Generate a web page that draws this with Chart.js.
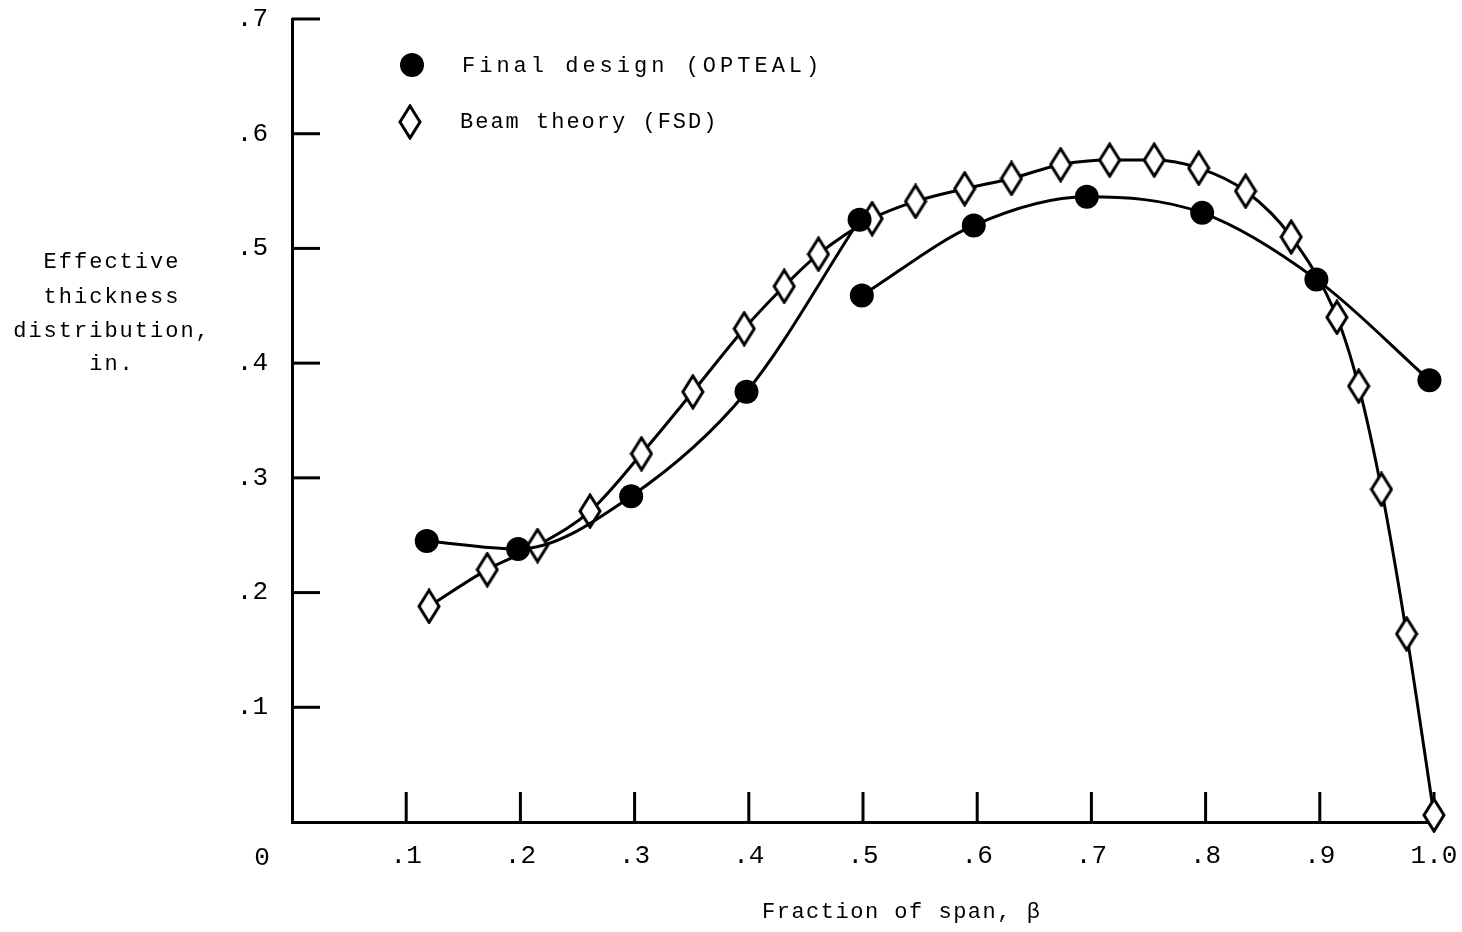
<!DOCTYPE html>
<html>
<head>
<meta charset="utf-8">
<script src="https://cdn.jsdelivr.net/npm/chart.js@4.4.1/dist/chart.umd.min.js"></script>
<style>
html,body{margin:0;padding:0;background:#fff;}
#c{display:block;}
</style>
</head>
<body>
<canvas id="c" width="1462" height="932"></canvas>
<script>
// ---- data ----
const finalInnerX = [0.118, 0.198, 0.297, 0.398, 0.497];
const finalInnerY = [0.245, 0.238, 0.284, 0.375, 0.525];
const finalOuterX = [0.499, 0.597, 0.696, 0.797, 0.897, 0.996];
const finalOuterY = [0.459, 0.520, 0.545, 0.531, 0.473, 0.385];
const beamX = [0.120, 0.171, 0.215, 0.261, 0.306, 0.351, 0.396, 0.431, 0.461, 0.508, 0.546, 0.589,
               0.630, 0.673, 0.716, 0.755, 0.794, 0.835, 0.875, 0.915, 0.934, 0.954, 0.976, 1.000];
const beamY = [0.188, 0.220, 0.241, 0.271, 0.321, 0.375, 0.430, 0.467, 0.495, 0.526, 0.541, 0.552,
               0.561, 0.573, 0.577, 0.577, 0.570, 0.550, 0.510, 0.440, 0.380, 0.290, 0.164, 0.006];
const xTicks = [0, 0.1, 0.2, 0.3, 0.4, 0.5, 0.6, 0.7, 0.8, 0.9, 1.0];
const xTickLabels = ['0', '.1', '.2', '.3', '.4', '.5', '.6', '.7', '.8', '.9', '1.0'];
const yTicks = [0, 0.1, 0.2, 0.3, 0.4, 0.5, 0.6, 0.7];
const yTickLabels = ['', '.1', '.2', '.3', '.4', '.5', '.6', '.7'];
const seriesNames = ['Final design (OPTEAL)', 'Beam theory (FSD)'];
const xTitle = 'Fraction of span, \u03B2';
const yTitleLines = ['Effective', 'thickness', 'distribution,', 'in.'];

const toPts = (xs, ys) => xs.map((x, i) => ({x: x, y: ys[i]}));

// tall open diamond marker
function makeDiamond() {
  const cv = document.createElement('canvas');
  cv.width = 24; cv.height = 36;
  const g = cv.getContext('2d');
  g.beginPath();
  g.moveTo(12, 2); g.lineTo(22, 18); g.lineTo(12, 34); g.lineTo(2, 18); g.closePath();
  g.fillStyle = '#fff'; g.fill();
  g.lineWidth = 3; g.strokeStyle = '#000'; g.lineJoin = 'miter'; g.stroke();
  return cv;
}
const diamond = makeDiamond();

const MONO = '"Liberation Mono", "DejaVu Sans Mono", monospace';

const decorPlugin = {
  id: 'decor',
  beforeDatasetsDraw(chart) {
    const ctx = chart.ctx;
    const xs = chart.scales.x, ys = chart.scales.y;
    const a = chart.chartArea;
    ctx.save();
    ctx.strokeStyle = '#000';
    ctx.lineWidth = 3;
    ctx.lineCap = 'butt';
    yTicks.forEach(v => {
      if (v === 0) return;
      const py = ys.getPixelForValue(v);
      ctx.beginPath(); ctx.moveTo(a.left, py); ctx.lineTo(a.left + 28, py); ctx.stroke();
    });
    xTicks.forEach(v => {
      if (v === 0) return;
      const px = xs.getPixelForValue(v);
      ctx.beginPath(); ctx.moveTo(px, a.bottom); ctx.lineTo(px, a.bottom - 30); ctx.stroke();
    });
    ctx.restore();
  },
  afterDraw(chart) {
    const ctx = chart.ctx;
    const xs = chart.scales.x;
    ctx.save();
    ctx.fillStyle = '#000';
    ctx.font = '26px ' + MONO;
    ctx.textAlign = 'center';
    ctx.textBaseline = 'middle';
    ctx.fillText(xTickLabels[0], xs.getPixelForValue(0) - 30, 858);

    ctx.font = '22px ' + MONO;
    ctx.letterSpacing = '1.5px';
    ctx.textAlign = 'left';
    ctx.fillText(xTitle, 762, 912);
    ctx.letterSpacing = '2px';
    ctx.textAlign = 'center';
    const yPos = [262, 297, 331, 364];
    yTitleLines.forEach((t, i) => ctx.fillText(t, 112, yPos[i]));

    ctx.textAlign = 'left';
    ctx.beginPath(); ctx.arc(412, 65, 12, 0, Math.PI * 2); ctx.fill();
    ctx.letterSpacing = '4px';
    ctx.fillText(seriesNames[0], 462, 66);
    ctx.drawImage(diamond, 410 - diamond.width / 2, 122 - diamond.height / 2);
    ctx.letterSpacing = '2px';
    ctx.fillText(seriesNames[1], 460, 122);
    ctx.restore();
  }
};

const common = {
  borderColor: '#000',
  borderWidth: 3,
  cubicInterpolationMode: 'monotone',
  clip: false,
  showLine: true
};

new Chart(document.getElementById('c'), {
  type: 'scatter',
  data: {
    datasets: [
      Object.assign({}, common, {
        label: seriesNames[0],
        data: toPts(finalInnerX, finalInnerY),
        pointStyle: 'circle', pointRadius: 12, pointBackgroundColor: '#000', pointBorderColor: '#000', pointBorderWidth: 0
      }),
      Object.assign({}, common, {
        label: seriesNames[0] + ' ',
        data: toPts(finalOuterX, finalOuterY),
        pointStyle: 'circle', pointRadius: 12, pointBackgroundColor: '#000', pointBorderColor: '#000', pointBorderWidth: 0
      }),
      Object.assign({}, common, {
        label: seriesNames[1],
        data: toPts(beamX, beamY),
        pointStyle: diamond, pointRadius: 12
      })
    ]
  },
  options: {
    responsive: false,
    animation: false,
    events: [],
    layout: { padding: 0 },
    plugins: { legend: { display: false }, tooltip: { enabled: false }, title: { display: false } },
    scales: {
      x: {
        type: 'linear', min: 0, max: 1.0,
        afterBuildTicks: s => { s.ticks = xTicks.map(v => ({value: v})); },
        afterFit: s => { s.height = 110; s.paddingLeft = 0; s.paddingRight = 28; },
        grid: { display: true, drawOnChartArea: false, drawTicks: false, color: '#000' },
        border: { display: true, color: '#000', width: 3 },
        ticks: {
          padding: 19, color: '#000', maxRotation: 0, autoSkip: false,
          font: { family: MONO, size: 26 },
          callback: (v) => { const i = xTicks.findIndex(t => Math.abs(t - v) < 1e-6); return i <= 0 ? '' : xTickLabels[i]; }
        }
      },
      y: {
        type: 'linear', min: 0, max: 0.7,
        afterBuildTicks: s => { s.ticks = yTicks.map(v => ({value: v})); },
        afterFit: s => { s.width = 292; s.paddingTop = 19; s.paddingBottom = 0; },
        grid: { display: true, drawOnChartArea: false, drawTicks: false, color: '#000' },
        border: { display: true, color: '#000', width: 3 },
        ticks: {
          padding: 24, color: '#000', autoSkip: false,
          font: { family: MONO, size: 26 },
          callback: (v) => { const i = yTicks.findIndex(t => Math.abs(t - v) < 1e-6); return i < 0 ? '' : yTickLabels[i]; }
        }
      }
    }
  },
  plugins: [decorPlugin]
});
</script>
</body>
</html>
